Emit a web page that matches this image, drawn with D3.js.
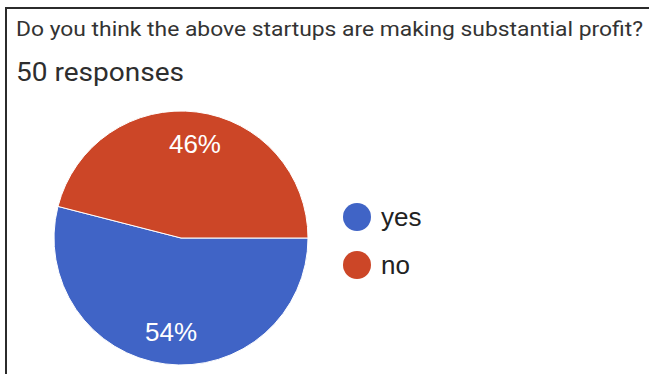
<!DOCTYPE html>
<html>
<head>
<meta charset="utf-8">
<script src="https://cdn.jsdelivr.net/npm/d3@7"></script>
<style>
  html, body { margin: 0; padding: 0; background: #fff; }
  svg { display: block; }
</style>
</head>
<body>
<svg id="chart" width="649" height="374"></svg>
<script>
// Survey question and response count
const question = "Do you think the above startups are making substantial profit?";
const responses = 50;

// Answer categories and their shares (percent)
const categories = ["yes", "no"];
const shares = [54, 46];
const colors = ["#4064c6", "#cc4627"];

const svg = d3.select("#chart");

// Card frame (top and left edges visible)
svg.append("path")
  .attr("d", "M6,374 V8 H649")
  .attr("fill", "none")
  .attr("stroke", "#2b2b2b")
  .attr("stroke-width", 2);

// Header text, set in a slightly widened face
svg.append("text")
  .attr("x", 16).attr("y", 36)
  .attr("font-family", "Roboto, Arial, sans-serif")
  .attr("font-size", 20)
  .attr("textLength", 627)
  .attr("lengthAdjust", "spacingAndGlyphs")
  .attr("fill", "#333")
  .text(question);

svg.append("text")
  .attr("x", 16).attr("y", 81)
  .attr("font-family", "Roboto, Arial, sans-serif")
  .attr("font-size", 26)
  .attr("textLength", 168)
  .attr("lengthAdjust", "spacingAndGlyphs")
  .attr("fill", "#2e2e2e")
  .text(`${responses} responses`);

// Pie, starting at 3 o'clock and running clockwise
const cx = 181, cy = 238, r = 127;
const data = categories.map((c, i) => ({ name: c, value: shares[i], color: colors[i] }));

const pie = d3.pie()
  .value(d => d.value)
  .sort(null)
  .startAngle(Math.PI / 2)
  .endAngle(Math.PI / 2 + 2 * Math.PI);

const arc = d3.arc().innerRadius(0).outerRadius(r);
const labelArc = d3.arc().innerRadius(r * 0.75).outerRadius(r * 0.75);

const g = svg.append("g").attr("transform", `translate(${cx},${cy})`);
const arcs = pie(data);

g.selectAll("path.slice")
  .data(arcs)
  .join("path")
  .attr("class", "slice")
  .attr("d", arc)
  .attr("fill", d => d.data.color)
  .attr("stroke", "#fff")
  .attr("stroke-width", 1);

g.selectAll("text.pct")
  .data(arcs)
  .join("text")
  .attr("class", "pct")
  .attr("transform", d => {
    const [x, y] = labelArc.centroid(d);
    return `translate(${x + 2},${y})`;
  })
  .attr("text-anchor", "middle")
  .attr("dominant-baseline", "central")
  .attr("font-family", "Liberation Sans, Arial, sans-serif")
  .attr("font-size", 26)
  .attr("fill", "#fff")
  .text(d => `${d.data.value}%`);

// Legend
const legend = svg.append("g")
  .selectAll("g")
  .data(data)
  .join("g")
  .attr("transform", (d, i) => `translate(357,${217 + i * 48})`);

legend.append("circle")
  .attr("r", 14)
  .attr("fill", d => d.color);

legend.append("text")
  .attr("x", 24)
  .attr("dominant-baseline", "central")
  .attr("font-family", "Liberation Sans, Arial, sans-serif")
  .attr("font-size", 26)
  .attr("fill", "#222")
  .text(d => d.name);
</script>
</body>
</html>
